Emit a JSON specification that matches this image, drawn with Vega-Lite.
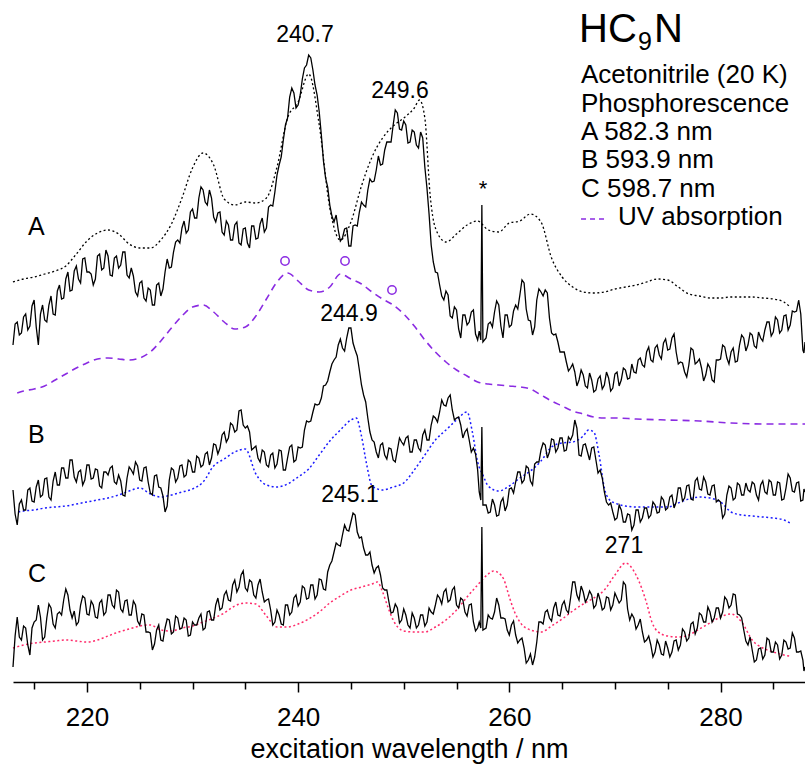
{
"$schema": "https://vega.github.io/schema/vega-lite/v6.json",
"width": 792, "height": 682,
"autosize": {"type": "none"},
"padding": {"left": 13, "top": 0, "right": 0, "bottom": 85},
"config": {"view": {"stroke": null}},
"datasets": {
"phos": [
{"w":213.0,"A":337,"B":192,"C":15},{"w":213.2,"A":358,"B":168,"C":46},{"w":213.4,"A":360,"B":157,"C":65},{"w":213.6,"A":347,"B":178,"C":45},{"w":213.8,"A":349,"B":182,"C":42},{"w":214.0,"A":365,"B":172,"C":56},{"w":214.2,"A":368,"B":172,"C":54},{"w":214.4,"A":352,"B":192,"C":37},{"w":214.6,"A":356,"B":194,"C":27},{"w":214.8,"A":376,"B":181,"C":54},
{"w":215.0,"A":382,"B":180,"C":60},{"w":215.2,"A":355,"B":195,"C":62},{"w":215.4,"A":337,"B":202,"C":77},{"w":215.6,"A":368,"B":185,"C":65},{"w":215.8,"A":377,"B":187,"C":42},{"w":216.0,"A":362,"B":203,"C":45},{"w":216.2,"A":360,"B":204,"C":64},{"w":216.4,"A":377,"B":185,"C":78},{"w":216.6,"A":386,"B":182,"C":74},{"w":216.8,"A":368,"B":201,"C":58},
{"w":217.0,"A":367,"B":210,"C":54},{"w":217.2,"A":391,"B":197,"C":68},{"w":217.4,"A":397,"B":197,"C":70},{"w":217.6,"A":383,"B":214,"C":67},{"w":217.8,"A":384,"B":214,"C":82},{"w":218.0,"A":403,"B":204,"C":93},{"w":218.2,"A":410,"B":204,"C":87},{"w":218.4,"A":391,"B":222,"C":72},{"w":218.6,"A":392,"B":222,"C":64},{"w":218.8,"A":411,"B":205,"C":71},
{"w":219.0,"A":416,"B":200,"C":57},{"w":219.2,"A":403,"B":210,"C":60},{"w":219.4,"A":399,"B":212,"C":77},{"w":219.6,"A":423,"B":197,"C":86},{"w":219.8,"A":424,"B":202,"C":84},{"w":220.0,"A":410,"B":217,"C":68},{"w":220.2,"A":410,"B":217,"C":67},{"w":220.4,"A":408,"B":203,"C":81},{"w":220.6,"A":397,"B":204,"C":77},{"w":220.8,"A":403,"B":213,"C":65},
{"w":221.0,"A":426,"B":212,"C":64},{"w":221.2,"A":428,"B":196,"C":79},{"w":221.4,"A":412,"B":194,"C":82},{"w":221.6,"A":414,"B":210,"C":67},{"w":221.8,"A":432,"B":210,"C":70},{"w":222.0,"A":426,"B":207,"C":87},{"w":222.2,"A":407,"B":214,"C":87},{"w":222.4,"A":406,"B":216,"C":77},{"w":222.6,"A":424,"B":200,"C":74},{"w":222.8,"A":426,"B":198,"C":92},
{"w":223.0,"A":414,"B":207,"C":90},{"w":223.2,"A":417,"B":201,"C":73},{"w":223.4,"A":430,"B":187,"C":70},{"w":223.6,"A":430,"B":186,"C":81},{"w":223.8,"A":407,"B":204,"C":82},{"w":224.0,"A":404,"B":215,"C":67},{"w":224.2,"A":414,"B":212,"C":67},{"w":224.4,"A":406,"B":208,"C":81},{"w":224.6,"A":390,"B":220,"C":77},{"w":224.8,"A":386,"B":216,"C":61},
{"w":225.0,"A":399,"B":202,"C":57},{"w":225.2,"A":401,"B":201,"C":68},{"w":225.4,"A":384,"B":214,"C":67},{"w":225.6,"A":381,"B":215,"C":50},{"w":225.8,"A":394,"B":200,"C":50},{"w":226.0,"A":392,"B":189,"C":49},{"w":226.2,"A":377,"B":187,"C":32},{"w":226.4,"A":377,"B":206,"C":38},{"w":226.6,"A":397,"B":207,"C":52},{"w":226.8,"A":399,"B":195,"C":57},
{"w":227.0,"A":386,"B":194,"C":42},{"w":227.2,"A":393,"B":186,"C":41},{"w":227.4,"A":410,"B":170,"C":54},{"w":227.6,"A":423,"B":176,"C":63},{"w":227.8,"A":414,"B":202,"C":62},{"w":228.0,"A":415,"B":214,"C":48},{"w":228.2,"A":430,"B":212,"C":50},{"w":228.4,"A":440,"B":200,"C":66},{"w":228.6,"A":442,"B":204,"C":64},{"w":228.8,"A":439,"B":216,"C":53},
{"w":229.0,"A":454,"B":217,"C":54},{"w":229.2,"A":461,"B":205,"C":64},{"w":229.4,"A":449,"B":207,"C":62},{"w":229.6,"A":452,"B":222,"C":46},{"w":229.8,"A":470,"B":220,"C":47},{"w":230.0,"A":473,"B":210,"C":60},{"w":230.2,"A":464,"B":210,"C":57},{"w":230.4,"A":464,"B":226,"C":57},{"w":230.6,"A":484,"B":224,"C":64},{"w":230.8,"A":495,"B":215,"C":68},
{"w":231.0,"A":492,"B":217,"C":52},{"w":231.2,"A":480,"B":228,"C":54},{"w":231.4,"A":477,"B":230,"C":70},{"w":231.6,"A":492,"B":217,"C":71},{"w":231.8,"A":484,"B":224,"C":62},{"w":232.0,"A":465,"B":238,"C":62},{"w":232.2,"A":460,"B":237,"C":77},{"w":232.4,"A":469,"B":228,"C":84},{"w":232.6,"A":470,"B":234,"C":72},{"w":232.8,"A":450,"B":247,"C":74},
{"w":233.0,"A":447,"B":250,"C":87},{"w":233.2,"A":461,"B":240,"C":91},{"w":233.4,"A":457,"B":244,"C":82},{"w":233.6,"A":442,"B":259,"C":81},{"w":233.8,"A":442,"B":257,"C":97},{"w":234.0,"A":457,"B":250,"C":102},{"w":234.2,"A":460,"B":252,"C":90},{"w":234.4,"A":439,"B":271,"C":95},{"w":234.6,"A":437,"B":272,"C":107},{"w":234.8,"A":453,"B":257,"C":111},
{"w":235.0,"A":454,"B":254,"C":94},{"w":235.2,"A":439,"B":256,"C":91},{"w":235.4,"A":434,"B":250,"C":102},{"w":235.6,"A":456,"B":232,"C":100},{"w":235.8,"A":456,"B":234,"C":87},{"w":236.0,"A":443,"B":236,"C":84},{"w":236.2,"A":444,"B":224,"C":97},{"w":236.4,"A":458,"B":220,"C":103},{"w":236.6,"A":464,"B":232,"C":90},{"w":236.8,"A":450,"B":230,"C":80},
{"w":237.0,"A":454,"B":217,"C":82},{"w":237.2,"A":475,"B":215,"C":83},{"w":237.4,"A":477,"B":227,"C":72},{"w":237.6,"A":476,"B":229,"C":57},{"w":237.8,"A":490,"B":214,"C":60},{"w":238.0,"A":507,"B":218,"C":72},{"w":238.2,"A":517,"B":232,"C":67},{"w":238.4,"A":525,"B":231,"C":58},{"w":238.6,"A":542,"B":212,"C":57},{"w":238.8,"A":557,"B":212,"C":77},
{"w":239.0,"A":564,"B":224,"C":77},{"w":239.2,"A":585,"B":235,"C":67},{"w":239.4,"A":594,"B":237,"C":70},{"w":239.6,"A":589,"B":220,"C":84},{"w":239.8,"A":574,"B":222,"C":87},{"w":240.0,"A":577,"B":235,"C":76},{"w":240.2,"A":587,"B":234,"C":80},{"w":240.4,"A":603,"B":235,"C":96},{"w":240.6,"A":614,"B":252,"C":94},{"w":240.8,"A":617,"B":261,"C":83},
{"w":241.0,"A":627,"B":260,"C":84},{"w":241.2,"A":624,"B":261,"C":97},{"w":241.4,"A":612,"B":270,"C":97},{"w":241.6,"A":597,"B":278,"C":83},{"w":241.8,"A":587,"B":277,"C":87},{"w":242.0,"A":570,"B":278,"C":103},{"w":242.2,"A":547,"B":284,"C":102},{"w":242.4,"A":521,"B":296,"C":93},{"w":242.6,"A":504,"B":297,"C":92},{"w":242.8,"A":495,"B":301,"C":110},
{"w":243.0,"A":477,"B":310,"C":117},{"w":243.2,"A":466,"B":318,"C":121},{"w":243.4,"A":460,"B":322,"C":130},{"w":243.6,"A":467,"B":325,"C":139},{"w":243.8,"A":452,"B":337,"C":137},{"w":244.0,"A":441,"B":343,"C":136},{"w":244.2,"A":444,"B":334,"C":147},{"w":244.4,"A":453,"B":331,"C":157},{"w":244.6,"A":454,"B":344,"C":152},{"w":244.8,"A":436,"B":354,"C":151},
{"w":245.0,"A":436,"B":354,"C":160},{"w":245.2,"A":456,"B":339,"C":169},{"w":245.4,"A":457,"B":332,"C":167},{"w":245.6,"A":456,"B":326,"C":150},{"w":245.8,"A":470,"B":312,"C":144},{"w":246.0,"A":480,"B":297,"C":145},{"w":246.2,"A":477,"B":287,"C":134},{"w":246.4,"A":475,"B":280,"C":127},{"w":246.6,"A":492,"B":264,"C":127},{"w":246.8,"A":503,"B":250,"C":130},
{"w":247.0,"A":500,"B":242,"C":117},{"w":247.2,"A":501,"B":240,"C":109},{"w":247.4,"A":512,"B":230,"C":114},{"w":247.6,"A":526,"B":224,"C":116},{"w":247.8,"A":517,"B":237,"C":107},{"w":248.0,"A":518,"B":239,"C":94},{"w":248.2,"A":532,"B":227,"C":92},{"w":248.4,"A":540,"B":223,"C":92},{"w":248.6,"A":540,"B":234,"C":80},{"w":248.8,"A":540,"B":233,"C":69},
{"w":249.0,"A":557,"B":222,"C":70},{"w":249.2,"A":572,"B":220,"C":78},{"w":249.4,"A":569,"B":232,"C":74},{"w":249.6,"A":553,"B":244,"C":59},{"w":249.8,"A":552,"B":240,"C":62},{"w":250.0,"A":561,"B":237,"C":73},{"w":250.2,"A":557,"B":244,"C":67},{"w":250.4,"A":539,"B":246,"C":57},{"w":250.6,"A":540,"B":230,"C":54},{"w":250.8,"A":552,"B":230,"C":69},
{"w":251.0,"A":550,"B":242,"C":64},{"w":251.2,"A":537,"B":242,"C":54},{"w":251.4,"A":534,"B":234,"C":57},{"w":251.6,"A":550,"B":231,"C":67},{"w":251.8,"A":544,"B":247,"C":67},{"w":252.0,"A":515,"B":252,"C":56},{"w":252.2,"A":494,"B":242,"C":60},{"w":252.4,"A":468,"B":242,"C":74},{"w":252.6,"A":437,"B":257,"C":70},{"w":252.8,"A":420,"B":266,"C":68},
{"w":253.0,"A":410,"B":264,"C":77},{"w":253.2,"A":409,"B":260,"C":87},{"w":253.4,"A":397,"B":270,"C":84},{"w":253.6,"A":386,"B":282,"C":78},{"w":253.8,"A":382,"B":277,"C":90},{"w":254.0,"A":391,"B":276,"C":93},{"w":254.2,"A":387,"B":284,"C":80},{"w":254.4,"A":366,"B":287,"C":82},{"w":254.6,"A":364,"B":272,"C":92},{"w":254.8,"A":375,"B":262,"C":95},
{"w":255.0,"A":372,"B":264,"C":77},{"w":255.2,"A":353,"B":265,"C":74},{"w":255.4,"A":344,"B":257,"C":84},{"w":255.6,"A":367,"B":244,"C":82},{"w":255.8,"A":367,"B":250,"C":70},{"w":256.0,"A":357,"B":253,"C":66},{"w":256.2,"A":360,"B":242,"C":77},{"w":256.4,"A":370,"B":230,"C":78},{"w":256.6,"A":372,"B":234,"C":60},{"w":256.8,"A":348,"B":228,"C":51},
{"w":257.0,"A":342,"B":212,"C":54},{"w":257.15,"A":351,"B":190,"C":60},{"w":257.3,"A":342,"B":182,"C":54},{"w":257.4,"A":477,"B":255,"C":155},{"w":257.5,"A":340,"B":177,"C":52},{"w":257.8,"A":344,"B":177,"C":54},{"w":258.0,"A":358,"B":169,"C":67},{"w":258.2,"A":360,"B":170,"C":64},{"w":258.4,"A":355,"B":183,"C":63},{"w":258.6,"A":370,"B":177,"C":70},{"w":258.8,"A":381,"B":166,"C":84},
{"w":259.0,"A":377,"B":167,"C":77},{"w":259.2,"A":356,"B":180,"C":64},{"w":259.4,"A":344,"B":184,"C":64},{"w":259.6,"A":367,"B":171,"C":63},{"w":259.8,"A":367,"B":177,"C":52},{"w":260.0,"A":355,"B":193,"C":47},{"w":260.2,"A":357,"B":194,"C":57},{"w":260.4,"A":371,"B":189,"C":61},{"w":260.6,"A":377,"B":200,"C":47},{"w":260.8,"A":373,"B":210,"C":39},
{"w":261.0,"A":387,"B":210,"C":42},{"w":261.2,"A":402,"B":199,"C":44},{"w":261.4,"A":399,"B":202,"C":34},{"w":261.6,"A":373,"B":216,"C":19},{"w":261.8,"A":362,"B":214,"C":22},{"w":262.0,"A":361,"B":201,"C":28},{"w":262.2,"A":347,"B":197,"C":17},{"w":262.4,"A":355,"B":218,"C":25},{"w":262.6,"A":382,"B":220,"C":40},{"w":262.8,"A":393,"B":220,"C":60},
{"w":263.0,"A":390,"B":232,"C":60},{"w":263.2,"A":386,"B":239,"C":58},{"w":263.4,"A":392,"B":237,"C":70},{"w":263.6,"A":389,"B":224,"C":72},{"w":263.8,"A":364,"B":230,"C":64},{"w":264.0,"A":349,"B":243,"C":61},{"w":264.2,"A":347,"B":242,"C":74},{"w":264.4,"A":348,"B":230,"C":80},{"w":264.6,"A":340,"B":234,"C":67},{"w":264.8,"A":330,"B":244,"C":66},
{"w":265.0,"A":330,"B":244,"C":77},{"w":265.2,"A":330,"B":231,"C":81},{"w":265.4,"A":320,"B":232,"C":72},{"w":265.6,"A":311,"B":245,"C":69},{"w":265.8,"A":314,"B":242,"C":84},{"w":266.0,"A":318,"B":247,"C":100},{"w":266.2,"A":310,"B":262,"C":100},{"w":266.4,"A":296,"B":254,"C":87},{"w":266.6,"A":302,"B":227,"C":82},{"w":266.8,"A":312,"B":226,"C":96},
{"w":267.0,"A":307,"B":237,"C":90},{"w":267.2,"A":296,"B":238,"C":80},{"w":267.4,"A":294,"B":230,"C":84},{"w":267.6,"A":309,"B":222,"C":91},{"w":267.8,"A":302,"B":234,"C":87},{"w":268.0,"A":290,"B":235,"C":74},{"w":268.2,"A":292,"B":222,"C":77},{"w":268.4,"A":303,"B":209,"C":89},{"w":268.6,"A":306,"B":212,"C":82},{"w":268.8,"A":293,"B":204,"C":72},
{"w":269.0,"A":297,"B":190,"C":74},{"w":269.2,"A":310,"B":180,"C":85},{"w":269.4,"A":304,"B":177,"C":84},{"w":269.6,"A":291,"B":179,"C":72},{"w":269.8,"A":294,"B":170,"C":77},{"w":270.0,"A":308,"B":162,"C":89},{"w":270.2,"A":310,"B":164,"C":84},{"w":270.4,"A":296,"B":177,"C":79},{"w":270.6,"A":302,"B":172,"C":82},{"w":270.8,"A":314,"B":160,"C":100},
{"w":271.0,"A":312,"B":160,"C":97},{"w":271.2,"A":303,"B":168,"C":73},{"w":271.4,"A":304,"B":167,"C":62},{"w":271.6,"A":318,"B":152,"C":68},{"w":271.8,"A":310,"B":157,"C":64},{"w":272.0,"A":309,"B":172,"C":53},{"w":272.2,"A":322,"B":172,"C":57},{"w":272.4,"A":324,"B":160,"C":63},{"w":272.6,"A":317,"B":164,"C":50},{"w":272.8,"A":315,"B":174,"C":40},
{"w":273.0,"A":330,"B":174,"C":42},{"w":273.2,"A":335,"B":164,"C":46},{"w":273.4,"A":322,"B":167,"C":37},{"w":273.6,"A":320,"B":180,"C":25},{"w":273.8,"A":334,"B":177,"C":30},{"w":274.0,"A":337,"B":169,"C":42},{"w":274.2,"A":327,"B":170,"C":37},{"w":274.4,"A":323,"B":185,"C":28},{"w":274.6,"A":339,"B":182,"C":27},{"w":274.8,"A":343,"B":172,"C":41},
{"w":275.0,"A":332,"B":174,"C":34},{"w":275.2,"A":333,"B":185,"C":25},{"w":275.4,"A":344,"B":187,"C":30},{"w":275.6,"A":348,"B":174,"C":41},{"w":275.8,"A":330,"B":180,"C":42},{"w":276.0,"A":318,"B":194,"C":32},{"w":276.2,"A":320,"B":194,"C":37},{"w":276.4,"A":319,"B":181,"C":53},{"w":276.6,"A":310,"B":184,"C":50},{"w":276.8,"A":305,"B":196,"C":41},
{"w":277.0,"A":317,"B":197,"C":44},{"w":277.2,"A":334,"B":183,"C":58},{"w":277.4,"A":332,"B":182,"C":60},{"w":277.6,"A":318,"B":201,"C":48},{"w":277.8,"A":320,"B":204,"C":54},{"w":278.0,"A":323,"B":193,"C":69},{"w":278.2,"A":314,"B":192,"C":67},{"w":278.4,"A":301,"B":205,"C":60},{"w":278.6,"A":307,"B":200,"C":60},{"w":278.8,"A":318,"B":188,"C":75},
{"w":279.0,"A":314,"B":187,"C":70},{"w":279.2,"A":302,"B":196,"C":60},{"w":279.4,"A":300,"B":197,"C":64},{"w":279.6,"A":322,"B":180,"C":74},{"w":279.8,"A":322,"B":182,"C":74},{"w":280.0,"A":323,"B":180,"C":64},{"w":280.2,"A":337,"B":164,"C":70},{"w":280.4,"A":335,"B":168,"C":85},{"w":280.6,"A":324,"B":187,"C":82},{"w":280.8,"A":318,"B":196,"C":74},
{"w":281.0,"A":330,"B":194,"C":77},{"w":281.2,"A":334,"B":182,"C":88},{"w":281.4,"A":320,"B":184,"C":87},{"w":281.6,"A":321,"B":199,"C":68},{"w":281.8,"A":337,"B":197,"C":67},{"w":282.0,"A":347,"B":187,"C":64},{"w":282.2,"A":344,"B":187,"C":52},{"w":282.4,"A":331,"B":199,"C":41},{"w":282.6,"A":337,"B":192,"C":37},{"w":282.8,"A":349,"B":190,"C":45},
{"w":283.0,"A":347,"B":200,"C":32},{"w":283.2,"A":336,"B":198,"C":20},{"w":283.4,"A":334,"B":187,"C":22},{"w":283.6,"A":350,"B":182,"C":33},{"w":283.8,"A":344,"B":197,"C":34},{"w":284.0,"A":341,"B":201,"C":23},{"w":284.2,"A":352,"B":190,"C":27},{"w":284.4,"A":360,"B":188,"C":44},{"w":284.6,"A":360,"B":202,"C":42},{"w":284.8,"A":346,"B":200,"C":30},
{"w":285.0,"A":350,"B":187,"C":30},{"w":285.2,"A":365,"B":187,"C":40},{"w":285.4,"A":362,"B":200,"C":37},{"w":285.6,"A":349,"B":199,"C":23},{"w":285.8,"A":352,"B":182,"C":27},{"w":286.0,"A":366,"B":183,"C":42},{"w":286.2,"A":367,"B":194,"C":40},{"w":286.4,"A":352,"B":208,"C":33},{"w":286.6,"A":357,"B":204,"C":34},{"w":286.8,"A":371,"B":191,"C":49},
{"w":287.0,"A":370,"B":190,"C":44},{"w":287.2,"A":371,"B":199,"C":30},{"w":287.4,"A":382,"B":200,"C":30},{"w":287.6,"A":368,"B":181,"C":31},{"w":287.8,"A":332,"B":182,"C":22},{"w":287.9,"A":329,"B":193,"C":11},{"w":288.0,"A":340,"B":190,"C":15}
],
"absA": [
{"w":213,"v":400},{"w":214,"v":403},{"w":215,"v":405},{"w":216,"v":408},{"w":217,"v":411},{"w":218,"v":416},{"w":219,"v":428},{"w":220,"v":441},{"w":221,"v":449},{"w":222,"v":452},
{"w":223,"v":448},{"w":224,"v":438},{"w":225,"v":434},{"w":226,"v":434},{"w":227,"v":442},{"w":228,"v":458},{"w":229,"v":484},{"w":230,"v":514},{"w":231,"v":529},{"w":232,"v":517},
{"w":233,"v":483},{"w":234,"v":477},{"w":235,"v":480},{"w":236,"v":479},{"w":237,"v":484},{"w":238,"v":515},{"w":239,"v":564},{"w":240,"v":580},{"w":241,"v":608},{"w":242,"v":557},
{"w":243,"v":474},{"w":244,"v":442},{"w":245,"v":460},{"w":246,"v":496},{"w":247,"v":525},{"w":248,"v":544},{"w":249,"v":556},{"w":250,"v":564},{"w":251,"v":574},{"w":251.5,"v":582},
{"w":252,"v":564},{"w":252.5,"v":487},{"w":253,"v":454},{"w":254,"v":440},{"w":255,"v":448},{"w":256,"v":457},{"w":257,"v":461},{"w":258,"v":452},{"w":259,"v":450},{"w":260,"v":459},
{"w":261,"v":461},{"w":262,"v":468},{"w":263,"v":460},{"w":264,"v":424},{"w":265,"v":405},{"w":266,"v":395},{"w":267,"v":390},{"w":268,"v":389},{"w":269,"v":390},{"w":270,"v":393},
{"w":271,"v":395},{"w":272,"v":397},{"w":273,"v":400},{"w":274,"v":403},{"w":275,"v":402},{"w":276,"v":395},{"w":277,"v":388},{"w":278,"v":386},{"w":279,"v":384},{"w":280,"v":384},
{"w":281,"v":385},{"w":282,"v":385},{"w":283,"v":385},{"w":284,"v":384},{"w":285,"v":383},{"w":286,"v":380},{"w":286.6,"v":375}
],
"uv": [
{"w":213.4,"v":289},{"w":214,"v":291},{"w":215,"v":293},{"w":216,"v":296},{"w":217,"v":302},{"w":218,"v":308},{"w":219,"v":314},{"w":220,"v":319},{"w":221,"v":323},{"w":222,"v":324},
{"w":223,"v":323},{"w":224,"v":322},{"w":225,"v":324},{"w":226,"v":330},{"w":227,"v":341},{"w":228,"v":354},{"w":229,"v":366},{"w":230,"v":375},{"w":231,"v":377},{"w":232,"v":370},
{"w":233,"v":360},{"w":234,"v":353},{"w":235,"v":355},{"w":236,"v":366},{"w":237,"v":383},{"w":238,"v":400},{"w":239,"v":409},{"w":240,"v":401},{"w":241,"v":392},{"w":242,"v":390},
{"w":243,"v":395},{"w":244,"v":408},{"w":245,"v":403},{"w":246,"v":398},{"w":247,"v":390},{"w":248,"v":383},{"w":249,"v":377},{"w":250,"v":368},{"w":251,"v":356},{"w":252,"v":342},
{"w":253,"v":330},{"w":254,"v":320},{"w":255,"v":312},{"w":256,"v":306},{"w":257,"v":300},{"w":258,"v":298},{"w":259,"v":297},{"w":260,"v":296},{"w":261,"v":295},{"w":262,"v":293},
{"w":263,"v":287},{"w":264,"v":281},{"w":265,"v":276},{"w":266,"v":271},{"w":267,"v":268},{"w":268,"v":265},{"w":269,"v":264},{"w":270,"v":264},{"w":272,"v":263},{"w":275,"v":262},
{"w":278,"v":261},{"w":281,"v":259},{"w":284,"v":258},{"w":288,"v":258}
],
"absB": [
{"w":213.5,"v":170},{"w":214,"v":171},{"w":215,"v":172},{"w":216,"v":174},{"w":217,"v":175},{"w":218,"v":176},{"w":219,"v":178},{"w":220,"v":180},{"w":221,"v":182},{"w":222,"v":184},
{"w":223,"v":187},{"w":224,"v":191},{"w":225,"v":194},{"w":226,"v":188},{"w":227,"v":185},{"w":228,"v":187},{"w":229,"v":190},{"w":230,"v":193},{"w":231,"v":200},{"w":232,"v":216},
{"w":233,"v":223},{"w":234,"v":230},{"w":235,"v":233},{"w":236,"v":208},{"w":237,"v":197},{"w":238,"v":195},{"w":239,"v":198},{"w":240,"v":205},{"w":241,"v":213},{"w":242,"v":227},
{"w":243,"v":241},{"w":244,"v":252},{"w":245,"v":262},{"w":245.5,"v":264},{"w":246,"v":246},{"w":246.5,"v":217},{"w":247,"v":196},{"w":248,"v":192},{"w":249,"v":195},{"w":250,"v":199},
{"w":251,"v":212},{"w":252,"v":227},{"w":253,"v":242},{"w":254,"v":252},{"w":255,"v":262},{"w":256,"v":270},{"w":256.5,"v":250},{"w":257,"v":220},{"w":257.5,"v":207},{"w":258,"v":196},
{"w":259,"v":191},{"w":260,"v":196},{"w":261,"v":204},{"w":262,"v":211},{"w":263,"v":221},{"w":264,"v":235},{"w":265,"v":239},{"w":266,"v":240},{"w":267,"v":246},{"w":267.5,"v":252},
{"w":268,"v":250},{"w":268.5,"v":227},{"w":269,"v":194},{"w":269.5,"v":182},{"w":270,"v":179},{"w":271,"v":176},{"w":272,"v":175},{"w":273,"v":175},{"w":274,"v":175},{"w":275,"v":175},
{"w":276,"v":179},{"w":277,"v":183},{"w":278,"v":185},{"w":279,"v":184},{"w":280,"v":180},{"w":281,"v":170},{"w":282,"v":167},{"w":283,"v":166},{"w":284,"v":165},{"w":285,"v":164},
{"w":286,"v":162},{"w":286.6,"v":159}
],
"absC": [
{"w":213,"v":34},{"w":214,"v":37},{"w":215,"v":39},{"w":216,"v":40},{"w":217,"v":41},{"w":218,"v":42},{"w":219,"v":41},{"w":220,"v":40},{"w":221,"v":42},{"w":222,"v":46},
{"w":223,"v":50},{"w":224,"v":53},{"w":225,"v":56},{"w":226,"v":57},{"w":227,"v":52},{"w":228,"v":51},{"w":229,"v":54},{"w":230,"v":56},{"w":231,"v":60},{"w":232,"v":64},
{"w":233,"v":69},{"w":234,"v":76},{"w":235,"v":79},{"w":236,"v":78},{"w":237,"v":66},{"w":238,"v":55},{"w":239,"v":55},{"w":240,"v":58},{"w":241,"v":63},{"w":242,"v":70},
{"w":243,"v":79},{"w":244,"v":86},{"w":245,"v":92},{"w":246,"v":95},{"w":247,"v":98},{"w":247.5,"v":100},{"w":248,"v":90},{"w":248.5,"v":75},{"w":249,"v":62},{"w":250,"v":51},
{"w":251,"v":50},{"w":252,"v":50},{"w":253,"v":55},{"w":254,"v":62},{"w":255,"v":72},{"w":256,"v":85},{"w":257,"v":97},{"w":258,"v":108},{"w":258.5,"v":111},{"w":259,"v":109},
{"w":259.5,"v":102},{"w":260,"v":85},{"w":260.5,"v":70},{"w":261,"v":60},{"w":262,"v":52},{"w":263,"v":50},{"w":264,"v":56},{"w":265,"v":63},{"w":266,"v":71},{"w":267,"v":78},
{"w":268,"v":84},{"w":269,"v":92},{"w":270,"v":107},{"w":271,"v":119},{"w":272,"v":107},{"w":273,"v":79},{"w":273.5,"v":60},{"w":274,"v":51},{"w":275,"v":46},{"w":276,"v":45},
{"w":277,"v":47},{"w":278,"v":53},{"w":279,"v":59},{"w":280,"v":65},{"w":281,"v":68},{"w":282,"v":60},{"w":283,"v":42},{"w":284,"v":34},{"w":285,"v":30},{"w":286,"v":27},
{"w":286.5,"v":26}
],
"circ": [{"w":238.76,"v":421},{"w":244.44,"v":421},{"w":248.89,"v":392}],
"ann": [{"w":240.65,"v":640,"t":"240.7"},{"w":249.65,"v":584,"t":"249.6"},{"w":244.82,"v":361,"t":"244.9"},{"w":244.91,"v":180,"t":"245.1"},{"w":270.86,"v":129,"t":"271"}],
"star": [{"w":257.51,"v":486,"t":"*"}],
"letters": [{"w":214.42,"v":447,"t":"A"},{"w":214.42,"v":239,"t":"B"},{"w":214.42,"v":100,"t":"C"}],
"legend": [{"w":266.79,"v":599,"t":"Acetonitrile (20 K)"},{"w":266.79,"v":570,"t":"Phosphorescence"},{"w":266.79,"v":542,"t":"A 582.3 nm"},{"w":266.79,"v":514,"t":"B 593.9 nm"},{"w":266.79,"v":485,"t":"C 598.7 nm"},{"w":270.29,"v":457,"t":"UV absorption"}],
"big": [{"w":266.6,"v":640,"t":"HC"},{"w":273.7,"v":640,"t":"N"}],
"sub": [{"w":272.19,"v":632,"t":"9"}],
"legline": [{"w":266.79,"w2":269.34,"v":463}]
},
"encoding": {
"x": {"field": "w", "type": "quantitative",
 "scale": {"domain": [213, 288], "nice": false, "zero": false},
 "axis": {
  "values": [215,220,225,230,235,240,245,250,255,260,265,270,275,280,285],
  "labelExpr": "datum.value % 20 === 0 ? datum.label : ''",
  "tickSize": {"condition": {"test": "datum.value % 20 === 0", "value": 10}, "value": 7},
  "title": "excitation wavelength / nm",
  "grid": false,
  "domainColor": "black", "domainWidth": 1.5,
  "tickColor": "black", "tickWidth": 1.5,
  "labelFont": "Liberation Sans", "labelFontSize": 26, "labelColor": "black",
  "labelBaseline": "alphabetic", "labelPadding": 33, "labelOverlap": false, "labelFlush": false,
  "titleFont": "Liberation Sans", "titleFontSize": 27, "titleFontWeight": "normal", "titleColor": "black",
  "titleBaseline": "alphabetic", "titleY": 75
 }}
},
"layer": [
{"data": {"name": "absA"}, "mark": {"type": "line", "color": "black", "strokeWidth": 1.3, "strokeDash": [2, 2.5], "interpolate": "monotone"},
 "encoding": {"y": {"field": "v", "type": "quantitative", "scale": {"domain": [0, 682], "nice": false, "zero": false}, "axis": null}}},
{"data": {"name": "uv"}, "mark": {"type": "line", "color": "#8a2be2", "strokeWidth": 1.6, "strokeDash": [7, 5], "interpolate": "monotone"},
 "encoding": {"y": {"field": "v", "type": "quantitative", "scale": {"domain": [0, 682], "nice": false, "zero": false}, "axis": null}}},
{"data": {"name": "absB"}, "mark": {"type": "line", "color": "#1a1aff", "strokeWidth": 1.5, "strokeDash": [2, 2.5], "interpolate": "monotone"},
 "encoding": {"y": {"field": "v", "type": "quantitative", "scale": {"domain": [0, 682], "nice": false, "zero": false}, "axis": null}}},
{"data": {"name": "absC"}, "mark": {"type": "line", "color": "#ff2a6a", "strokeWidth": 1.5, "strokeDash": [2, 2.5], "interpolate": "monotone"},
 "encoding": {"y": {"field": "v", "type": "quantitative", "scale": {"domain": [0, 682], "nice": false, "zero": false}, "axis": null}}},
{"data": {"name": "phos"}, "mark": {"type": "line", "color": "black", "strokeWidth": 1.3},
 "encoding": {"y": {"field": "A", "type": "quantitative", "scale": {"domain": [0, 682], "nice": false, "zero": false}, "axis": null}}},
{"data": {"name": "phos"}, "mark": {"type": "line", "color": "black", "strokeWidth": 1.3},
 "encoding": {"y": {"field": "B", "type": "quantitative", "scale": {"domain": [0, 682], "nice": false, "zero": false}, "axis": null}}},
{"data": {"name": "phos"}, "mark": {"type": "line", "color": "black", "strokeWidth": 1.3},
 "encoding": {"y": {"field": "C", "type": "quantitative", "scale": {"domain": [0, 682], "nice": false, "zero": false}, "axis": null}}},
{"data": {"name": "circ"}, "mark": {"type": "point", "shape": "circle", "filled": false, "color": "#8a2be2", "size": 70, "strokeWidth": 1.5, "opacity": 1},
 "encoding": {"y": {"field": "v", "type": "quantitative", "scale": {"domain": [0, 682], "nice": false, "zero": false}, "axis": null}}},
{"data": {"name": "legline"}, "mark": {"type": "rule", "color": "#8a2be2", "strokeWidth": 1.6, "strokeDash": [5, 4]},
 "encoding": {"x2": {"field": "w2"}, "y": {"field": "v", "type": "quantitative", "scale": {"domain": [0, 682], "nice": false, "zero": false}, "axis": null}}},
{"data": {"name": "ann"}, "mark": {"type": "text", "font": "Liberation Sans", "fontSize": 23, "align": "center", "baseline": "alphabetic", "color": "black"},
 "encoding": {"text": {"field": "t"}, "y": {"field": "v", "type": "quantitative", "scale": {"domain": [0, 682], "nice": false, "zero": false}, "axis": null}}},
{"data": {"name": "star"}, "mark": {"type": "text", "font": "Liberation Sans", "fontSize": 22, "align": "center", "baseline": "alphabetic", "color": "black"},
 "encoding": {"text": {"field": "t"}, "y": {"field": "v", "type": "quantitative", "scale": {"domain": [0, 682], "nice": false, "zero": false}, "axis": null}}},
{"data": {"name": "letters"}, "mark": {"type": "text", "font": "Liberation Sans", "fontSize": 25, "align": "left", "baseline": "alphabetic", "color": "black"},
 "encoding": {"text": {"field": "t"}, "y": {"field": "v", "type": "quantitative", "scale": {"domain": [0, 682], "nice": false, "zero": false}, "axis": null}}},
{"data": {"name": "legend"}, "mark": {"type": "text", "font": "Liberation Sans", "fontSize": 26, "align": "left", "baseline": "alphabetic", "color": "black"},
 "encoding": {"text": {"field": "t"}, "y": {"field": "v", "type": "quantitative", "scale": {"domain": [0, 682], "nice": false, "zero": false}, "axis": null}}},
{"data": {"name": "big"}, "mark": {"type": "text", "font": "Liberation Sans", "fontSize": 40, "align": "left", "baseline": "alphabetic", "color": "black"},
 "encoding": {"text": {"field": "t"}, "y": {"field": "v", "type": "quantitative", "scale": {"domain": [0, 682], "nice": false, "zero": false}, "axis": null}}},
{"data": {"name": "sub"}, "mark": {"type": "text", "font": "Liberation Sans", "fontSize": 25, "align": "left", "baseline": "alphabetic", "color": "black"},
 "encoding": {"text": {"field": "t"}, "y": {"field": "v", "type": "quantitative", "scale": {"domain": [0, 682], "nice": false, "zero": false}, "axis": null}}}
]
}
